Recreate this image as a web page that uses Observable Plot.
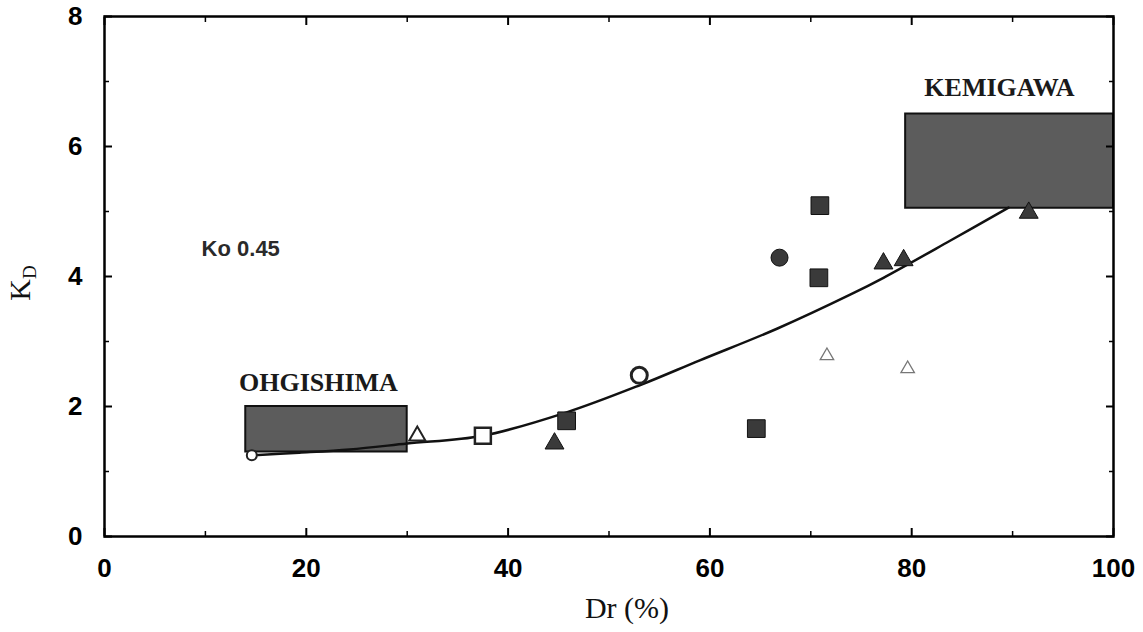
<!DOCTYPE html>
<html>
<head>
<meta charset="utf-8">
<script src="https://cdn.jsdelivr.net/npm/d3@7"></script>
<script src="https://cdn.jsdelivr.net/npm/@observablehq/plot@0.6"></script>
<style>
  html, body { margin: 0; padding: 0; background: #fff; }
  #chart svg { display: block; }
</style>
</head>
<body>
<div id="chart"></div>
<script>
// ---- data ----
const xTicks = [0, 20, 40, 60, 80, 100];
const xMinor = [10, 30, 50, 70, 90];
const yTicks = [0, 2, 4, 6, 8];
const yMinor = [1, 3, 5, 7];

// site zones (Dr range, K_D range)
const zoneNames = ["OHGISHIMA", "KEMIGAWA"];
const zoneDr = [[14, 30], [79.4, 100]];
const zoneKd = [[1.3, 2.0], [5.05, 6.5]];
// label anchors (data units)
const zoneLabelDr = [21.2, 88.7];
const zoneLabelKd = [2.37, 6.9];

// measured points
const ptDr    = [14.6, 31, 37.5, 44.6, 45.8, 53, 64.6, 66.9, 70.9, 70.8, 71.6, 77.2, 79.2, 79.6, 91.6];
const ptKd    = [1.25, 1.55, 1.55, 1.43, 1.78, 2.48, 1.66, 4.29, 5.09, 3.98, 2.78, 4.2, 4.25, 2.58, 4.98];
const ptShape = ["circle", "triangle", "square", "triangle", "square", "circle", "square", "circle", "square", "square", "triangle", "triangle", "triangle", "triangle", "triangle"];
const ptFilled = [false, false, false, true, true, false, true, true, true, true, false, true, true, false, true];
const ptSmall = [true, false, false, false, false, false, false, false, false, false, true, false, false, true, false];

// fitted trend curve
const curveDr = [14.6, 19.3, 24.3, 30.0, 37.5, 45.8, 53.1, 59.0, 66.7, 73.9, 77.2, 83.8, 89.6];
const curveKd = [1.25, 1.29, 1.34, 1.43, 1.55, 1.91, 2.33, 2.71, 3.2, 3.72, 3.98, 4.55, 5.06];

const koText = ["Ko 0.45"];
const koDr = [13.5];
const koKd = [4.43];

// ---- build ----
const pts = ptDr.map((d, i) => ({dr: d, kd: ptKd[i], shape: ptShape[i], filled: ptFilled[i], small: ptSmall[i]}));
const curve = curveDr.map((d, i) => ({dr: d, kd: curveKd[i]}));
const zones = zoneNames.map((n, i) => ({name: n, x1: zoneDr[i][0], x2: zoneDr[i][1], y1: zoneKd[i][0], y2: zoneKd[i][1], lx: zoneLabelDr[i], ly: zoneLabelKd[i]}));
const ko = koText.map((t, i) => ({t, x: koDr[i], y: koKd[i]}));

const tickFont = {fontSize: 26, fontWeight: "bold", fontFamily: "Liberation Sans, Arial, sans-serif"};

function dots(filter, opts) {
  return Plot.dot(pts.filter(filter), {x: "dr", y: "kd", ...opts});
}

const chart = Plot.plot({
  width: 1143,
  height: 632,
  marginTop: 16,
  marginBottom: 96,
  marginLeft: 104,
  marginRight: 30,
  x: {domain: [0, 100]},
  y: {domain: [0, 8]},
  style: {background: "#fff", color: "#000"},
  marks: [
    Plot.rect(zones, {x1: "x1", x2: "x2", y1: "y1", y2: "y2", fill: "#5c5c5c", stroke: "#111", strokeWidth: 2}),
    Plot.text(zones, {x: "lx", y: "ly", text: "name", fontFamily: "Liberation Serif, Times New Roman, serif", fontWeight: "bold", fontSize: 26, fill: "#1a1a1a"}),
    Plot.text(ko, {x: "x", y: "y", text: "t", fontFamily: "Liberation Sans, Arial, sans-serif", fontSize: 22, fontWeight: "bold", fill: "#2a2a2a"}),
    Plot.line(curve, {x: "dr", y: "kd", curve: "catmull-rom", stroke: "#111", strokeWidth: 2.5}),
    // hollow markers
    dots(d => !d.filled && d.shape === "circle" && d.small, {symbol: "circle", r: 5, stroke: "#222", strokeWidth: 2, fill: "#fff"}),
    dots(d => !d.filled && d.shape === "circle" && !d.small, {symbol: "circle", r: 8, stroke: "#222", strokeWidth: 3, fill: "#fff"}),
    dots(d => !d.filled && d.shape === "triangle" && !d.small, {symbol: "triangle", r: 6, stroke: "#222", strokeWidth: 2, fill: "#fff"}),
    dots(d => !d.filled && d.shape === "triangle" && d.small, {symbol: "triangle", r: 5, stroke: "#777", strokeWidth: 1.3, fill: "#fff"}),
    dots(d => !d.filled && d.shape === "square", {symbol: "square", r: 9, stroke: "#222", strokeWidth: 2.5, fill: "#fff"}),
    // filled markers
    dots(d => d.filled && d.shape === "circle", {symbol: "circle", r: 8.5, fill: "#3a3a3a", stroke: "#111", strokeWidth: 1}),
    dots(d => d.filled && d.shape === "square", {symbol: "square", r: 10, fill: "#3a3a3a", stroke: "#111", strokeWidth: 1}),
    dots(d => d.filled && d.shape === "triangle", {symbol: "triangle", r: 7, fill: "#3a3a3a", stroke: "#111", strokeWidth: 1}),
    Plot.frame({stroke: "#000", strokeWidth: 2.5}),
    // tick labels
    Plot.axisX({anchor: "bottom", ticks: xTicks, tickSize: 0, tickPadding: 22, label: null, ...tickFont}),
    Plot.axisY({anchor: "left", ticks: yTicks, tickSize: 0, tickPadding: 22, label: null, ...tickFont}),
    // inward ticks
    Plot.axisX({anchor: "bottom", ticks: xTicks, tickSize: -8, strokeWidth: 2, fill: "none", label: null}),
    Plot.axisX({anchor: "top", ticks: xTicks, tickSize: -8, strokeWidth: 2, fill: "none", label: null}),
    Plot.axisX({anchor: "bottom", ticks: xMinor, tickSize: -5, strokeWidth: 1.5, fill: "none", label: null}),
    Plot.axisX({anchor: "top", ticks: xMinor, tickSize: -5, strokeWidth: 1.5, fill: "none", label: null}),
    Plot.axisY({anchor: "left", ticks: yTicks, tickSize: -8, strokeWidth: 2, fill: "none", label: null}),
    Plot.axisY({anchor: "right", ticks: yTicks, tickSize: -8, strokeWidth: 2, fill: "none", label: null}),
    Plot.axisY({anchor: "left", ticks: yMinor, tickSize: -5, strokeWidth: 1.5, fill: "none", label: null}),
    Plot.axisY({anchor: "right", ticks: yMinor, tickSize: -5, strokeWidth: 1.5, fill: "none", label: null}),
    // x axis title
    Plot.text(["Dr (%)"], {text: d => d, frameAnchor: "bottom", dy: 81, dx: 18, fontFamily: "Liberation Serif, Times New Roman, serif", fontSize: 30, fill: "#111"})
  ]
});

document.getElementById("chart").appendChild(chart);

// y axis title with subscript
const svg = d3.select(chart);
const t = svg.append("text")
  .attr("transform", "translate(30,283) rotate(-90)")
  .attr("text-anchor", "middle")
  .attr("font-family", "Liberation Serif, Times New Roman, serif")
  .attr("font-size", 30)
  .attr("fill", "#111");
t.append("tspan").text("K");
t.append("tspan").attr("font-size", 19).attr("dy", 6).text("D");
</script>
</body>
</html>
